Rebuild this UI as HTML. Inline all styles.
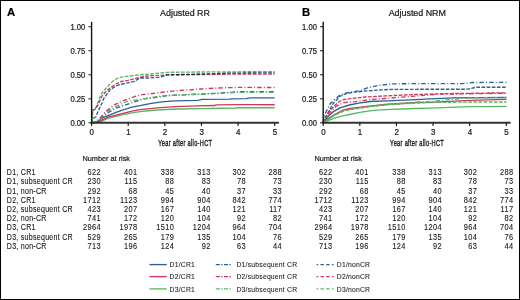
<!DOCTYPE html>
<html><head><meta charset="utf-8"><style>
html,body{margin:0;padding:0;}
body{width:520px;height:300px;overflow:hidden;background:#fff;position:relative;}
svg{position:absolute;left:0;top:0;will-change:transform;}
text{font-family:"Liberation Sans", sans-serif;fill:#1a1a1a;stroke:#1a1a1a;stroke-width:0.22px;}
.yl{font-size:7.5px;}
.xl{font-size:8px;}
.tn{font-size:8px;}
.rl{font-size:7.55px;}
.nr{font-size:7.35px;}
.lg{font-size:7.05px;}
.ti{font-size:8.9px;}
.pl{font-size:11.3px;font-weight:bold;fill:#000;}
.xt{font-size:9.4px;stroke:#1a1a1a;stroke-width:0.4px;letter-spacing:0.52px;}
</style></head><body>
<svg width="520" height="300" viewBox="0 0 520 300">
<rect x="0.5" y="0.5" width="519" height="299" fill="#fff" stroke="#000" stroke-width="1"/>
<text x="6.9" y="15.85" class="pl">A</text>
<text x="302.1" y="15.7" class="pl">B</text>
<text x="185" y="15.6" text-anchor="middle" class="ti">Adjusted RR</text>
<text x="417.3" y="15.6" text-anchor="middle" class="ti">Adjusted NRM</text>
<g fill="none" stroke-width="1.35" class="cv">
<path d="M91.60,122.80 L96.00,122.60 L100.00,121.80 L104.00,120.20 L108.00,118.40 L116.00,116.40 L124.00,114.40 L132.00,112.80 L140.00,111.60 L151.00,110.50 L165.00,109.50 L180.00,109.00 L200.00,108.60 L236.00,108.00 L238.00,107.70 L274.70,107.70" stroke="#55b962" />
<path d="M91.60,122.80 L96.00,122.40 L100.00,121.00 L104.00,119.20 L108.00,117.20 L116.00,115.20 L124.00,113.20 L132.00,111.20 L140.00,109.60 L150.00,108.60 L160.00,107.60 L175.00,106.60 L198.00,105.80 L215.00,105.50 L216.00,104.90 L241.00,104.70 L274.70,104.70" stroke="#d23658" />
<path d="M91.60,122.80 L95.00,122.30 L98.00,121.00 L101.00,119.00 L104.00,117.20 L108.00,115.60 L116.00,112.40 L124.00,109.60 L132.00,107.20 L140.00,105.60 L150.00,103.70 L160.00,102.20 L170.00,101.20 L185.00,100.60 L198.00,100.30 L202.00,99.30 L230.00,99.10 L231.00,98.80 L246.00,98.70 L250.00,97.90 L274.70,97.90" stroke="#2b6196" />
<path d="M91.60,122.80 L95.00,122.50 L98.00,121.50 L102.00,117.50 L107.20,113.20 L116.00,108.00 L127.20,104.40 L137.60,100.80 L144.00,98.80 L155.00,97.50 L165.40,95.80 L177.00,95.00 L198.00,94.20 L218.00,93.20 L238.00,91.80 L274.70,91.60" stroke="#2b6196" stroke-dasharray="4.5 2.1 1 2.1"/>
<path d="M91.60,122.80 L95.00,122.30 L98.00,120.50 L101.00,118.50 L106.40,112.00 L111.00,109.00 L116.00,106.40 L126.40,101.60 L137.60,99.60 L147.70,98.20 L159.20,96.20 L170.80,95.40 L178.50,95.10 L190.00,94.50 L198.00,94.50 L218.00,93.50 L238.00,92.40 L274.70,92.40" stroke="#55b962" stroke-dasharray="4.5 2.1 1 2.1"/>
<path d="M91.60,122.80 L95.00,122.20 L97.60,120.30 L100.90,117.00 L103.00,114.50 L106.40,111.00 L110.00,108.00 L114.40,104.80 L120.00,102.00 L126.40,99.60 L135.00,96.40 L142.30,94.60 L149.00,94.00 L160.00,92.50 L175.00,90.80 L190.00,89.80 L200.00,89.00 L218.00,88.00 L238.00,87.40 L274.70,87.50" stroke="#d23658" stroke-dasharray="4.5 2.1 1 2.1"/>
<path d="M91.60,119.50 L94.00,118.20 L96.00,116.70 L98.00,111.30 L100.00,107.30 L102.00,103.00 L104.00,98.00 L110.00,90.00 L115.00,86.50 L120.00,84.50 L128.00,82.80 L133.60,81.60 L140.00,78.00 L148.00,78.00 L158.40,77.40 L163.20,76.40 L167.20,74.80 L200.00,74.20 L226.00,73.20 L274.70,72.80" stroke="#2b6196" stroke-dasharray="3.7 1.43" stroke-dashoffset="3.08" style="mix-blend-mode:multiply"/>
<path d="M91.60,111.00 L94.00,110.00 L96.00,108.70 L98.00,104.70 L102.00,96.00 L106.00,91.50 L110.00,88.00 L116.00,84.00 L121.00,81.50 L128.00,80.40 L136.00,78.40 L144.00,76.40 L149.60,75.80 L160.00,75.40 L166.40,74.90 L200.00,74.50 L226.00,74.20 L274.70,74.10" stroke="#d23658" stroke-dasharray="3.7 1.43" stroke-dashoffset="3.92" style="mix-blend-mode:multiply"/>
<path d="M91.60,110.50 L94.00,109.00 L96.00,107.30 L98.50,101.00 L101.00,94.00 L105.00,89.50 L109.00,85.00 L113.00,81.00 L117.00,78.50 L121.00,77.20 L130.00,76.00 L140.00,74.80 L150.00,74.00 L168.00,72.30 L200.00,72.00 L240.00,71.80 L274.70,71.60" stroke="#55b962" stroke-dasharray="3.7 1.43" stroke-dashoffset="1.18" style="mix-blend-mode:multiply"/>
<path d="M92.5,122.3 L92.5,111" stroke="#d23658" stroke-dasharray="2.5 1.5"/>
<path d="M92.5,121.5 L92.5,110.8" stroke="#55b962" stroke-dasharray="3 1.5"/>
<path d="M323.20,122.80 L324.50,121.90 L326.60,121.00 L330.00,119.80 L336.00,117.60 L344.00,115.60 L352.00,114.00 L360.00,112.40 L368.00,111.20 L376.00,110.20 L385.00,109.60 L415.00,108.50 L430.00,108.20 L470.00,106.60 L506.50,106.30" stroke="#55b962" />
<path d="M323.20,122.80 L325.00,121.00 L328.50,118.40 L336.00,113.80 L343.40,110.00 L350.00,108.50 L365.00,106.60 L385.00,104.50 L416.00,102.50 L430.00,102.30 L470.00,100.40 L506.50,99.30" stroke="#d23658" />
<path d="M323.20,122.80 L324.70,120.30 L328.50,116.10 L333.10,111.90 L337.80,109.10 L340.00,107.80 L349.30,105.00 L358.70,103.20 L370.00,101.50 L387.30,100.80 L416.00,99.60 L430.00,98.80 L453.50,97.90 L506.50,97.50" stroke="#2b6196" />
<path d="M323.20,122.80 L323.80,117.00 L324.70,114.70 L327.50,109.00 L330.30,103.50 L334.00,100.00 L338.80,96.00 L340.00,95.00 L347.50,92.60 L354.00,91.60 L360.60,90.60 L368.00,87.70 L376.50,85.80 L385.70,84.60 L392.70,83.90 L416.00,83.60 L463.00,83.60 L472.70,82.50 L506.50,82.30" stroke="#2b6196" stroke-dasharray="4.5 2.1 1 2.1"/>
<path d="M323.20,122.80 L325.00,121.20 L328.50,119.00 L336.00,114.20 L343.40,110.80 L350.00,109.30 L365.00,107.00 L385.00,104.50 L416.00,102.20 L430.00,101.50 L470.00,97.80 L506.50,97.60" stroke="#55b962" stroke-dasharray="4.5 2.1 1 2.1"/>
<path d="M323.20,122.80 L325.00,120.00 L328.50,113.80 L333.00,109.50 L336.00,106.40 L344.00,102.60 L356.00,101.60 L368.00,99.80 L376.00,99.20 L385.00,98.50 L416.00,96.00 L440.00,94.20 L506.50,93.20" stroke="#d23658" stroke-dasharray="4.5 2.1 1 2.1"/>
<path d="M323.20,122.80 L324.00,119.00 L326.60,115.60 L333.10,103.50 L337.80,98.80 L340.00,96.20 L347.50,93.20 L354.00,92.20 L363.80,91.20 L381.00,89.90 L392.70,89.30 L416.00,89.30 L467.00,89.20 L476.50,87.20 L506.50,87.20" stroke="#2b6196" stroke-dasharray="3.7 1.43"/>
<path d="M323.20,122.80 L325.00,118.00 L329.40,111.00 L335.00,105.30 L339.20,101.50 L343.40,99.70 L350.00,98.70 L365.00,97.00 L385.00,95.90 L416.00,94.50 L450.00,93.60 L506.50,92.80" stroke="#d23658" stroke-dasharray="3.7 1.43"/>
<path d="M323.20,122.80 L325.00,121.20 L328.50,119.30 L336.00,114.60 L343.40,111.20 L350.00,109.80 L365.00,107.40 L385.00,105.00 L416.00,103.00 L430.00,102.50 L470.00,102.00 L506.50,102.00" stroke="#55b962" stroke-dasharray="3.7 1.43"/>
</g>
<line x1="91.60" y1="21.8" x2="91.60" y2="123.70" stroke="#111" stroke-width="1.4"/>
<line x1="90.90" y1="122.80" x2="279.00" y2="122.80" stroke="#333" stroke-width="1.9"/>
<line x1="88.50" y1="122.80" x2="91.60" y2="122.80" stroke="#222" stroke-width="1.1"/>
<text transform="translate(85.30,125.70) scale(0.92,1)" font-size="8.3" text-anchor="end">0.00</text>
<line x1="88.50" y1="98.78" x2="91.60" y2="98.78" stroke="#222" stroke-width="1.1"/>
<text transform="translate(85.30,101.68) scale(0.92,1)" font-size="8.3" text-anchor="end">0.25</text>
<line x1="88.50" y1="74.75" x2="91.60" y2="74.75" stroke="#222" stroke-width="1.1"/>
<text transform="translate(85.30,77.65) scale(0.92,1)" font-size="8.3" text-anchor="end">0.50</text>
<line x1="88.50" y1="50.73" x2="91.60" y2="50.73" stroke="#222" stroke-width="1.1"/>
<text transform="translate(85.30,53.63) scale(0.92,1)" font-size="8.3" text-anchor="end">0.75</text>
<line x1="88.50" y1="26.70" x2="91.60" y2="26.70" stroke="#222" stroke-width="1.1"/>
<text transform="translate(85.30,29.60) scale(0.92,1)" font-size="8.3" text-anchor="end">1.00</text>
<line x1="91.60" y1="122.80" x2="91.60" y2="125.90" stroke="#111" stroke-width="1.1"/>
<text transform="translate(91.80,134.90) scale(0.95,1)" font-size="8.4" text-anchor="middle">0</text>
<line x1="128.22" y1="122.80" x2="128.22" y2="125.90" stroke="#111" stroke-width="1.1"/>
<text transform="translate(128.42,134.90) scale(0.95,1)" font-size="8.4" text-anchor="middle">1</text>
<line x1="164.84" y1="122.80" x2="164.84" y2="125.90" stroke="#111" stroke-width="1.1"/>
<text transform="translate(165.04,134.90) scale(0.95,1)" font-size="8.4" text-anchor="middle">2</text>
<line x1="201.46" y1="122.80" x2="201.46" y2="125.90" stroke="#111" stroke-width="1.1"/>
<text transform="translate(201.66,134.90) scale(0.95,1)" font-size="8.4" text-anchor="middle">3</text>
<line x1="238.08" y1="122.80" x2="238.08" y2="125.90" stroke="#111" stroke-width="1.1"/>
<text transform="translate(238.28,134.90) scale(0.95,1)" font-size="8.4" text-anchor="middle">4</text>
<line x1="274.70" y1="122.80" x2="274.70" y2="125.90" stroke="#111" stroke-width="1.1"/>
<text transform="translate(274.90,134.90) scale(0.95,1)" font-size="8.4" text-anchor="middle">5</text>
<line x1="323.20" y1="21.8" x2="323.20" y2="123.70" stroke="#111" stroke-width="1.4"/>
<line x1="322.50" y1="122.80" x2="510.60" y2="122.80" stroke="#333" stroke-width="1.9"/>
<line x1="320.10" y1="122.80" x2="323.20" y2="122.80" stroke="#222" stroke-width="1.1"/>
<text transform="translate(316.90,125.70) scale(0.92,1)" font-size="8.3" text-anchor="end">0.00</text>
<line x1="320.10" y1="98.78" x2="323.20" y2="98.78" stroke="#222" stroke-width="1.1"/>
<text transform="translate(316.90,101.68) scale(0.92,1)" font-size="8.3" text-anchor="end">0.25</text>
<line x1="320.10" y1="74.75" x2="323.20" y2="74.75" stroke="#222" stroke-width="1.1"/>
<text transform="translate(316.90,77.65) scale(0.92,1)" font-size="8.3" text-anchor="end">0.50</text>
<line x1="320.10" y1="50.73" x2="323.20" y2="50.73" stroke="#222" stroke-width="1.1"/>
<text transform="translate(316.90,53.63) scale(0.92,1)" font-size="8.3" text-anchor="end">0.75</text>
<line x1="320.10" y1="26.70" x2="323.20" y2="26.70" stroke="#222" stroke-width="1.1"/>
<text transform="translate(316.90,29.60) scale(0.92,1)" font-size="8.3" text-anchor="end">1.00</text>
<line x1="323.20" y1="122.80" x2="323.20" y2="125.90" stroke="#111" stroke-width="1.1"/>
<text transform="translate(323.40,134.90) scale(0.95,1)" font-size="8.4" text-anchor="middle">0</text>
<line x1="359.82" y1="122.80" x2="359.82" y2="125.90" stroke="#111" stroke-width="1.1"/>
<text transform="translate(360.02,134.90) scale(0.95,1)" font-size="8.4" text-anchor="middle">1</text>
<line x1="396.44" y1="122.80" x2="396.44" y2="125.90" stroke="#111" stroke-width="1.1"/>
<text transform="translate(396.64,134.90) scale(0.95,1)" font-size="8.4" text-anchor="middle">2</text>
<line x1="433.06" y1="122.80" x2="433.06" y2="125.90" stroke="#111" stroke-width="1.1"/>
<text transform="translate(433.26,134.90) scale(0.95,1)" font-size="8.4" text-anchor="middle">3</text>
<line x1="469.68" y1="122.80" x2="469.68" y2="125.90" stroke="#111" stroke-width="1.1"/>
<text transform="translate(469.88,134.90) scale(0.95,1)" font-size="8.4" text-anchor="middle">4</text>
<line x1="506.30" y1="122.80" x2="506.30" y2="125.90" stroke="#111" stroke-width="1.1"/>
<text transform="translate(506.50,134.90) scale(0.95,1)" font-size="8.4" text-anchor="middle">5</text>
<text transform="translate(185.3,145.7) scale(0.6,1)" text-anchor="middle" class="xt">Year after allo-HCT</text>
<text transform="translate(417.1,145.6) scale(0.6,1)" text-anchor="middle" class="xt">Year after allo-HCT</text>
<text transform="translate(82.50,161.25) scale(0.94,1)" font-size="7.8">Number at risk</text>
<text transform="translate(314.40,161.35) scale(0.94,1)" font-size="7.8">Number at risk</text>
<text transform="translate(6.80,175.20) scale(0.85,1)" font-size="8.3" style="letter-spacing:0.32px;stroke-width:0.12px;">D1, CR1</text>
<text transform="translate(6.80,184.39) scale(0.85,1)" font-size="8.3" style="letter-spacing:0.32px;stroke-width:0.12px;">D1, subsequent CR</text>
<text transform="translate(6.80,193.58) scale(0.85,1)" font-size="8.3" style="letter-spacing:0.32px;stroke-width:0.12px;">D1, non-CR</text>
<text transform="translate(6.80,202.77) scale(0.85,1)" font-size="8.3" style="letter-spacing:0.32px;stroke-width:0.12px;">D2, CR1</text>
<text transform="translate(6.80,211.96) scale(0.85,1)" font-size="8.3" style="letter-spacing:0.32px;stroke-width:0.12px;">D2, subsequent CR</text>
<text transform="translate(6.80,221.15) scale(0.85,1)" font-size="8.3" style="letter-spacing:0.32px;stroke-width:0.12px;">D2, non-CR</text>
<text transform="translate(6.80,230.34) scale(0.85,1)" font-size="8.3" style="letter-spacing:0.32px;stroke-width:0.12px;">D3, CR1</text>
<text transform="translate(6.80,239.53) scale(0.85,1)" font-size="8.3" style="letter-spacing:0.32px;stroke-width:0.12px;">D3, subsequent CR</text>
<text transform="translate(6.80,248.72) scale(0.85,1)" font-size="8.3" style="letter-spacing:0.32px;stroke-width:0.12px;">D3, non-CR</text>
<text transform="translate(100.99,175.20) scale(0.86,1)" font-size="8.6" text-anchor="end" style="letter-spacing:0.45px;stroke-width:0.12px;">622</text>
<text transform="translate(137.39,175.20) scale(0.86,1)" font-size="8.6" text-anchor="end" style="letter-spacing:0.45px;stroke-width:0.12px;">401</text>
<text transform="translate(174.29,175.20) scale(0.86,1)" font-size="8.6" text-anchor="end" style="letter-spacing:0.45px;stroke-width:0.12px;">338</text>
<text transform="translate(210.69,175.20) scale(0.86,1)" font-size="8.6" text-anchor="end" style="letter-spacing:0.45px;stroke-width:0.12px;">313</text>
<text transform="translate(245.89,175.20) scale(0.86,1)" font-size="8.6" text-anchor="end" style="letter-spacing:0.45px;stroke-width:0.12px;">302</text>
<text transform="translate(282.09,175.20) scale(0.86,1)" font-size="8.6" text-anchor="end" style="letter-spacing:0.45px;stroke-width:0.12px;">288</text>
<text transform="translate(100.99,184.39) scale(0.86,1)" font-size="8.6" text-anchor="end" style="letter-spacing:0.45px;stroke-width:0.12px;">230</text>
<text transform="translate(137.39,184.39) scale(0.86,1)" font-size="8.6" text-anchor="end" style="letter-spacing:0.45px;stroke-width:0.12px;">115</text>
<text transform="translate(174.29,184.39) scale(0.86,1)" font-size="8.6" text-anchor="end" style="letter-spacing:0.45px;stroke-width:0.12px;">88</text>
<text transform="translate(210.69,184.39) scale(0.86,1)" font-size="8.6" text-anchor="end" style="letter-spacing:0.45px;stroke-width:0.12px;">83</text>
<text transform="translate(245.89,184.39) scale(0.86,1)" font-size="8.6" text-anchor="end" style="letter-spacing:0.45px;stroke-width:0.12px;">78</text>
<text transform="translate(282.09,184.39) scale(0.86,1)" font-size="8.6" text-anchor="end" style="letter-spacing:0.45px;stroke-width:0.12px;">73</text>
<text transform="translate(100.99,193.58) scale(0.86,1)" font-size="8.6" text-anchor="end" style="letter-spacing:0.45px;stroke-width:0.12px;">292</text>
<text transform="translate(137.39,193.58) scale(0.86,1)" font-size="8.6" text-anchor="end" style="letter-spacing:0.45px;stroke-width:0.12px;">68</text>
<text transform="translate(174.29,193.58) scale(0.86,1)" font-size="8.6" text-anchor="end" style="letter-spacing:0.45px;stroke-width:0.12px;">45</text>
<text transform="translate(210.69,193.58) scale(0.86,1)" font-size="8.6" text-anchor="end" style="letter-spacing:0.45px;stroke-width:0.12px;">40</text>
<text transform="translate(245.89,193.58) scale(0.86,1)" font-size="8.6" text-anchor="end" style="letter-spacing:0.45px;stroke-width:0.12px;">37</text>
<text transform="translate(282.09,193.58) scale(0.86,1)" font-size="8.6" text-anchor="end" style="letter-spacing:0.45px;stroke-width:0.12px;">33</text>
<text transform="translate(100.99,202.77) scale(0.86,1)" font-size="8.6" text-anchor="end" style="letter-spacing:0.45px;stroke-width:0.12px;">1712</text>
<text transform="translate(137.39,202.77) scale(0.86,1)" font-size="8.6" text-anchor="end" style="letter-spacing:0.45px;stroke-width:0.12px;">1123</text>
<text transform="translate(174.29,202.77) scale(0.86,1)" font-size="8.6" text-anchor="end" style="letter-spacing:0.45px;stroke-width:0.12px;">994</text>
<text transform="translate(210.69,202.77) scale(0.86,1)" font-size="8.6" text-anchor="end" style="letter-spacing:0.45px;stroke-width:0.12px;">904</text>
<text transform="translate(245.89,202.77) scale(0.86,1)" font-size="8.6" text-anchor="end" style="letter-spacing:0.45px;stroke-width:0.12px;">842</text>
<text transform="translate(282.09,202.77) scale(0.86,1)" font-size="8.6" text-anchor="end" style="letter-spacing:0.45px;stroke-width:0.12px;">774</text>
<text transform="translate(100.99,211.96) scale(0.86,1)" font-size="8.6" text-anchor="end" style="letter-spacing:0.45px;stroke-width:0.12px;">423</text>
<text transform="translate(137.39,211.96) scale(0.86,1)" font-size="8.6" text-anchor="end" style="letter-spacing:0.45px;stroke-width:0.12px;">207</text>
<text transform="translate(174.29,211.96) scale(0.86,1)" font-size="8.6" text-anchor="end" style="letter-spacing:0.45px;stroke-width:0.12px;">167</text>
<text transform="translate(210.69,211.96) scale(0.86,1)" font-size="8.6" text-anchor="end" style="letter-spacing:0.45px;stroke-width:0.12px;">140</text>
<text transform="translate(245.89,211.96) scale(0.86,1)" font-size="8.6" text-anchor="end" style="letter-spacing:0.45px;stroke-width:0.12px;">121</text>
<text transform="translate(282.09,211.96) scale(0.86,1)" font-size="8.6" text-anchor="end" style="letter-spacing:0.45px;stroke-width:0.12px;">117</text>
<text transform="translate(100.99,221.15) scale(0.86,1)" font-size="8.6" text-anchor="end" style="letter-spacing:0.45px;stroke-width:0.12px;">741</text>
<text transform="translate(137.39,221.15) scale(0.86,1)" font-size="8.6" text-anchor="end" style="letter-spacing:0.45px;stroke-width:0.12px;">172</text>
<text transform="translate(174.29,221.15) scale(0.86,1)" font-size="8.6" text-anchor="end" style="letter-spacing:0.45px;stroke-width:0.12px;">120</text>
<text transform="translate(210.69,221.15) scale(0.86,1)" font-size="8.6" text-anchor="end" style="letter-spacing:0.45px;stroke-width:0.12px;">104</text>
<text transform="translate(245.89,221.15) scale(0.86,1)" font-size="8.6" text-anchor="end" style="letter-spacing:0.45px;stroke-width:0.12px;">92</text>
<text transform="translate(282.09,221.15) scale(0.86,1)" font-size="8.6" text-anchor="end" style="letter-spacing:0.45px;stroke-width:0.12px;">82</text>
<text transform="translate(100.99,230.34) scale(0.86,1)" font-size="8.6" text-anchor="end" style="letter-spacing:0.45px;stroke-width:0.12px;">2964</text>
<text transform="translate(137.39,230.34) scale(0.86,1)" font-size="8.6" text-anchor="end" style="letter-spacing:0.45px;stroke-width:0.12px;">1978</text>
<text transform="translate(174.29,230.34) scale(0.86,1)" font-size="8.6" text-anchor="end" style="letter-spacing:0.45px;stroke-width:0.12px;">1510</text>
<text transform="translate(210.69,230.34) scale(0.86,1)" font-size="8.6" text-anchor="end" style="letter-spacing:0.45px;stroke-width:0.12px;">1204</text>
<text transform="translate(245.89,230.34) scale(0.86,1)" font-size="8.6" text-anchor="end" style="letter-spacing:0.45px;stroke-width:0.12px;">964</text>
<text transform="translate(282.09,230.34) scale(0.86,1)" font-size="8.6" text-anchor="end" style="letter-spacing:0.45px;stroke-width:0.12px;">704</text>
<text transform="translate(100.99,239.53) scale(0.86,1)" font-size="8.6" text-anchor="end" style="letter-spacing:0.45px;stroke-width:0.12px;">529</text>
<text transform="translate(137.39,239.53) scale(0.86,1)" font-size="8.6" text-anchor="end" style="letter-spacing:0.45px;stroke-width:0.12px;">265</text>
<text transform="translate(174.29,239.53) scale(0.86,1)" font-size="8.6" text-anchor="end" style="letter-spacing:0.45px;stroke-width:0.12px;">179</text>
<text transform="translate(210.69,239.53) scale(0.86,1)" font-size="8.6" text-anchor="end" style="letter-spacing:0.45px;stroke-width:0.12px;">135</text>
<text transform="translate(245.89,239.53) scale(0.86,1)" font-size="8.6" text-anchor="end" style="letter-spacing:0.45px;stroke-width:0.12px;">104</text>
<text transform="translate(282.09,239.53) scale(0.86,1)" font-size="8.6" text-anchor="end" style="letter-spacing:0.45px;stroke-width:0.12px;">76</text>
<text transform="translate(100.99,248.72) scale(0.86,1)" font-size="8.6" text-anchor="end" style="letter-spacing:0.45px;stroke-width:0.12px;">713</text>
<text transform="translate(137.39,248.72) scale(0.86,1)" font-size="8.6" text-anchor="end" style="letter-spacing:0.45px;stroke-width:0.12px;">196</text>
<text transform="translate(174.29,248.72) scale(0.86,1)" font-size="8.6" text-anchor="end" style="letter-spacing:0.45px;stroke-width:0.12px;">124</text>
<text transform="translate(210.69,248.72) scale(0.86,1)" font-size="8.6" text-anchor="end" style="letter-spacing:0.45px;stroke-width:0.12px;">92</text>
<text transform="translate(245.89,248.72) scale(0.86,1)" font-size="8.6" text-anchor="end" style="letter-spacing:0.45px;stroke-width:0.12px;">63</text>
<text transform="translate(282.09,248.72) scale(0.86,1)" font-size="8.6" text-anchor="end" style="letter-spacing:0.45px;stroke-width:0.12px;">44</text>
<text transform="translate(332.39,175.20) scale(0.86,1)" font-size="8.6" text-anchor="end" style="letter-spacing:0.45px;stroke-width:0.12px;">622</text>
<text transform="translate(368.79,175.20) scale(0.86,1)" font-size="8.6" text-anchor="end" style="letter-spacing:0.45px;stroke-width:0.12px;">401</text>
<text transform="translate(405.69,175.20) scale(0.86,1)" font-size="8.6" text-anchor="end" style="letter-spacing:0.45px;stroke-width:0.12px;">338</text>
<text transform="translate(442.09,175.20) scale(0.86,1)" font-size="8.6" text-anchor="end" style="letter-spacing:0.45px;stroke-width:0.12px;">313</text>
<text transform="translate(477.29,175.20) scale(0.86,1)" font-size="8.6" text-anchor="end" style="letter-spacing:0.45px;stroke-width:0.12px;">302</text>
<text transform="translate(513.49,175.20) scale(0.86,1)" font-size="8.6" text-anchor="end" style="letter-spacing:0.45px;stroke-width:0.12px;">288</text>
<text transform="translate(332.39,184.39) scale(0.86,1)" font-size="8.6" text-anchor="end" style="letter-spacing:0.45px;stroke-width:0.12px;">230</text>
<text transform="translate(368.79,184.39) scale(0.86,1)" font-size="8.6" text-anchor="end" style="letter-spacing:0.45px;stroke-width:0.12px;">115</text>
<text transform="translate(405.69,184.39) scale(0.86,1)" font-size="8.6" text-anchor="end" style="letter-spacing:0.45px;stroke-width:0.12px;">88</text>
<text transform="translate(442.09,184.39) scale(0.86,1)" font-size="8.6" text-anchor="end" style="letter-spacing:0.45px;stroke-width:0.12px;">83</text>
<text transform="translate(477.29,184.39) scale(0.86,1)" font-size="8.6" text-anchor="end" style="letter-spacing:0.45px;stroke-width:0.12px;">78</text>
<text transform="translate(513.49,184.39) scale(0.86,1)" font-size="8.6" text-anchor="end" style="letter-spacing:0.45px;stroke-width:0.12px;">73</text>
<text transform="translate(332.39,193.58) scale(0.86,1)" font-size="8.6" text-anchor="end" style="letter-spacing:0.45px;stroke-width:0.12px;">292</text>
<text transform="translate(368.79,193.58) scale(0.86,1)" font-size="8.6" text-anchor="end" style="letter-spacing:0.45px;stroke-width:0.12px;">68</text>
<text transform="translate(405.69,193.58) scale(0.86,1)" font-size="8.6" text-anchor="end" style="letter-spacing:0.45px;stroke-width:0.12px;">45</text>
<text transform="translate(442.09,193.58) scale(0.86,1)" font-size="8.6" text-anchor="end" style="letter-spacing:0.45px;stroke-width:0.12px;">40</text>
<text transform="translate(477.29,193.58) scale(0.86,1)" font-size="8.6" text-anchor="end" style="letter-spacing:0.45px;stroke-width:0.12px;">37</text>
<text transform="translate(513.49,193.58) scale(0.86,1)" font-size="8.6" text-anchor="end" style="letter-spacing:0.45px;stroke-width:0.12px;">33</text>
<text transform="translate(332.39,202.77) scale(0.86,1)" font-size="8.6" text-anchor="end" style="letter-spacing:0.45px;stroke-width:0.12px;">1712</text>
<text transform="translate(368.79,202.77) scale(0.86,1)" font-size="8.6" text-anchor="end" style="letter-spacing:0.45px;stroke-width:0.12px;">1123</text>
<text transform="translate(405.69,202.77) scale(0.86,1)" font-size="8.6" text-anchor="end" style="letter-spacing:0.45px;stroke-width:0.12px;">994</text>
<text transform="translate(442.09,202.77) scale(0.86,1)" font-size="8.6" text-anchor="end" style="letter-spacing:0.45px;stroke-width:0.12px;">904</text>
<text transform="translate(477.29,202.77) scale(0.86,1)" font-size="8.6" text-anchor="end" style="letter-spacing:0.45px;stroke-width:0.12px;">842</text>
<text transform="translate(513.49,202.77) scale(0.86,1)" font-size="8.6" text-anchor="end" style="letter-spacing:0.45px;stroke-width:0.12px;">774</text>
<text transform="translate(332.39,211.96) scale(0.86,1)" font-size="8.6" text-anchor="end" style="letter-spacing:0.45px;stroke-width:0.12px;">423</text>
<text transform="translate(368.79,211.96) scale(0.86,1)" font-size="8.6" text-anchor="end" style="letter-spacing:0.45px;stroke-width:0.12px;">207</text>
<text transform="translate(405.69,211.96) scale(0.86,1)" font-size="8.6" text-anchor="end" style="letter-spacing:0.45px;stroke-width:0.12px;">167</text>
<text transform="translate(442.09,211.96) scale(0.86,1)" font-size="8.6" text-anchor="end" style="letter-spacing:0.45px;stroke-width:0.12px;">140</text>
<text transform="translate(477.29,211.96) scale(0.86,1)" font-size="8.6" text-anchor="end" style="letter-spacing:0.45px;stroke-width:0.12px;">121</text>
<text transform="translate(513.49,211.96) scale(0.86,1)" font-size="8.6" text-anchor="end" style="letter-spacing:0.45px;stroke-width:0.12px;">117</text>
<text transform="translate(332.39,221.15) scale(0.86,1)" font-size="8.6" text-anchor="end" style="letter-spacing:0.45px;stroke-width:0.12px;">741</text>
<text transform="translate(368.79,221.15) scale(0.86,1)" font-size="8.6" text-anchor="end" style="letter-spacing:0.45px;stroke-width:0.12px;">172</text>
<text transform="translate(405.69,221.15) scale(0.86,1)" font-size="8.6" text-anchor="end" style="letter-spacing:0.45px;stroke-width:0.12px;">120</text>
<text transform="translate(442.09,221.15) scale(0.86,1)" font-size="8.6" text-anchor="end" style="letter-spacing:0.45px;stroke-width:0.12px;">104</text>
<text transform="translate(477.29,221.15) scale(0.86,1)" font-size="8.6" text-anchor="end" style="letter-spacing:0.45px;stroke-width:0.12px;">92</text>
<text transform="translate(513.49,221.15) scale(0.86,1)" font-size="8.6" text-anchor="end" style="letter-spacing:0.45px;stroke-width:0.12px;">82</text>
<text transform="translate(332.39,230.34) scale(0.86,1)" font-size="8.6" text-anchor="end" style="letter-spacing:0.45px;stroke-width:0.12px;">2964</text>
<text transform="translate(368.79,230.34) scale(0.86,1)" font-size="8.6" text-anchor="end" style="letter-spacing:0.45px;stroke-width:0.12px;">1978</text>
<text transform="translate(405.69,230.34) scale(0.86,1)" font-size="8.6" text-anchor="end" style="letter-spacing:0.45px;stroke-width:0.12px;">1510</text>
<text transform="translate(442.09,230.34) scale(0.86,1)" font-size="8.6" text-anchor="end" style="letter-spacing:0.45px;stroke-width:0.12px;">1204</text>
<text transform="translate(477.29,230.34) scale(0.86,1)" font-size="8.6" text-anchor="end" style="letter-spacing:0.45px;stroke-width:0.12px;">964</text>
<text transform="translate(513.49,230.34) scale(0.86,1)" font-size="8.6" text-anchor="end" style="letter-spacing:0.45px;stroke-width:0.12px;">704</text>
<text transform="translate(332.39,239.53) scale(0.86,1)" font-size="8.6" text-anchor="end" style="letter-spacing:0.45px;stroke-width:0.12px;">529</text>
<text transform="translate(368.79,239.53) scale(0.86,1)" font-size="8.6" text-anchor="end" style="letter-spacing:0.45px;stroke-width:0.12px;">265</text>
<text transform="translate(405.69,239.53) scale(0.86,1)" font-size="8.6" text-anchor="end" style="letter-spacing:0.45px;stroke-width:0.12px;">179</text>
<text transform="translate(442.09,239.53) scale(0.86,1)" font-size="8.6" text-anchor="end" style="letter-spacing:0.45px;stroke-width:0.12px;">135</text>
<text transform="translate(477.29,239.53) scale(0.86,1)" font-size="8.6" text-anchor="end" style="letter-spacing:0.45px;stroke-width:0.12px;">104</text>
<text transform="translate(513.49,239.53) scale(0.86,1)" font-size="8.6" text-anchor="end" style="letter-spacing:0.45px;stroke-width:0.12px;">76</text>
<text transform="translate(332.39,248.72) scale(0.86,1)" font-size="8.6" text-anchor="end" style="letter-spacing:0.45px;stroke-width:0.12px;">713</text>
<text transform="translate(368.79,248.72) scale(0.86,1)" font-size="8.6" text-anchor="end" style="letter-spacing:0.45px;stroke-width:0.12px;">196</text>
<text transform="translate(405.69,248.72) scale(0.86,1)" font-size="8.6" text-anchor="end" style="letter-spacing:0.45px;stroke-width:0.12px;">124</text>
<text transform="translate(442.09,248.72) scale(0.86,1)" font-size="8.6" text-anchor="end" style="letter-spacing:0.45px;stroke-width:0.12px;">92</text>
<text transform="translate(477.29,248.72) scale(0.86,1)" font-size="8.6" text-anchor="end" style="letter-spacing:0.45px;stroke-width:0.12px;">63</text>
<text transform="translate(513.49,248.72) scale(0.86,1)" font-size="8.6" text-anchor="end" style="letter-spacing:0.45px;stroke-width:0.12px;">44</text>
<line x1="149.5" y1="264.6" x2="166.7" y2="264.6" stroke="#2b6196" stroke-width="1.35"/>
<text transform="translate(169.60,267.30) scale(0.84,1)" font-size="8.1" style="letter-spacing:0.25px;stroke-width:0.08px;">D1/CR1</text>
<line x1="215.8" y1="264.6" x2="231.5" y2="264.6" stroke="#2b6196" stroke-width="1.35" stroke-dasharray="4 1.4 1.4 1.4"/>
<text transform="translate(236.50,267.30) scale(0.84,1)" font-size="8.1" style="letter-spacing:0.25px;stroke-width:0.08px;">D1/subsequent CR</text>
<line x1="316.6" y1="264.6" x2="334" y2="264.6" stroke="#2b6196" stroke-width="1.35" stroke-dasharray="1.6 2.3 3.4 2.3 3.4 2.3 1.6 9"/>
<text transform="translate(336.80,267.30) scale(0.84,1)" font-size="8.1" style="letter-spacing:0.25px;stroke-width:0.08px;">D1/nonCR</text>
<line x1="149.5" y1="276.6" x2="166.7" y2="276.6" stroke="#d23658" stroke-width="1.35"/>
<text transform="translate(169.60,279.30) scale(0.84,1)" font-size="8.1" style="letter-spacing:0.25px;stroke-width:0.08px;">D2/CR1</text>
<line x1="215.8" y1="276.6" x2="231.5" y2="276.6" stroke="#d23658" stroke-width="1.35" stroke-dasharray="4 1.4 1.4 1.4"/>
<text transform="translate(236.50,279.30) scale(0.84,1)" font-size="8.1" style="letter-spacing:0.25px;stroke-width:0.08px;">D2/subsequent CR</text>
<line x1="316.6" y1="276.6" x2="334" y2="276.6" stroke="#d23658" stroke-width="1.35" stroke-dasharray="1.6 2.3 3.4 2.3 3.4 2.3 1.6 9"/>
<text transform="translate(336.80,279.30) scale(0.84,1)" font-size="8.1" style="letter-spacing:0.25px;stroke-width:0.08px;">D2/nonCR</text>
<line x1="149.5" y1="288.9" x2="166.7" y2="288.9" stroke="#55b962" stroke-width="1.35"/>
<text transform="translate(169.60,291.60) scale(0.84,1)" font-size="8.1" style="letter-spacing:0.25px;stroke-width:0.08px;">D3/CR1</text>
<line x1="215.8" y1="288.9" x2="231.5" y2="288.9" stroke="#55b962" stroke-width="1.35" stroke-dasharray="4 1.4 1.4 1.4"/>
<text transform="translate(236.50,291.60) scale(0.84,1)" font-size="8.1" style="letter-spacing:0.25px;stroke-width:0.08px;">D3/subsequent CR</text>
<line x1="316.6" y1="288.9" x2="334" y2="288.9" stroke="#55b962" stroke-width="1.35" stroke-dasharray="1.6 2.3 3.4 2.3 3.4 2.3 1.6 9"/>
<text transform="translate(336.80,291.60) scale(0.84,1)" font-size="8.1" style="letter-spacing:0.25px;stroke-width:0.08px;">D3/nonCR</text>
</svg>
</body></html>
